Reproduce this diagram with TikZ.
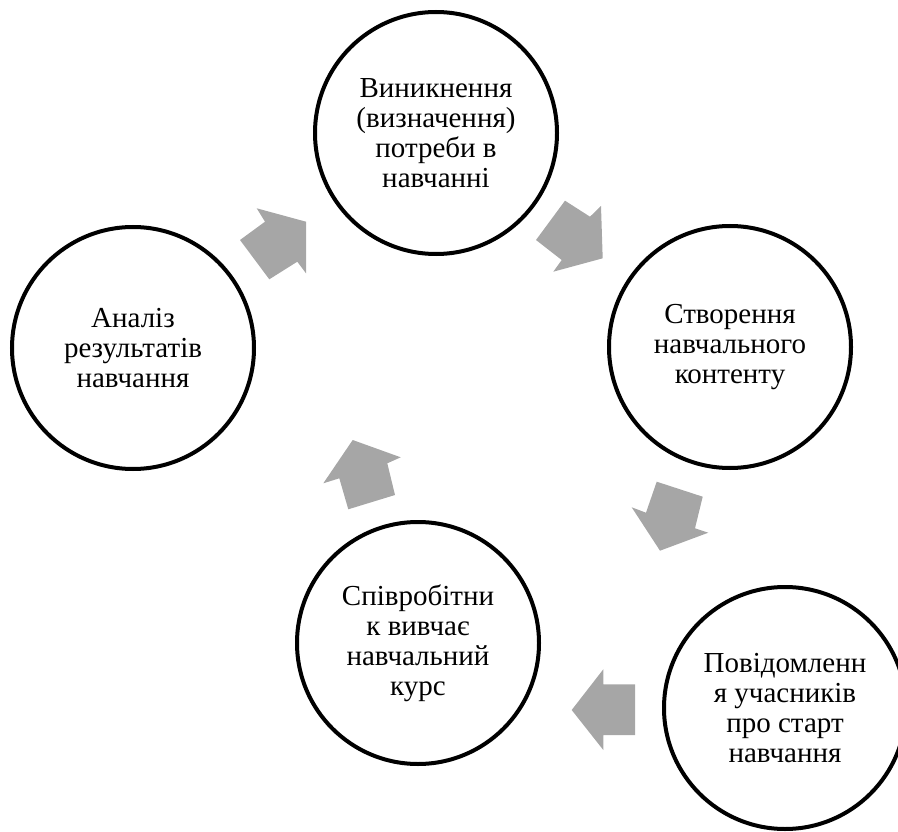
\documentclass[tikz,border=0pt]{standalone}
\usepackage{fontspec}
\setmainfont{Liberation Serif}
\definecolor{arrowgray}{RGB}{166,166,166}

\begin{document}
\begin{tikzpicture}[x=1pt,y=-1pt,
  stage/.style={circle,draw=black,line width=4pt,minimum size=242pt,inner sep=0pt,
    align=center,font=\fontsize{29}{30}\selectfont},
  blockarrow/.style={fill=arrowgray}]

\useasboundingbox (0,0) rectangle (898,832);
\clip (0,0) rectangle (898,832);

\coordinate (c1) at (436,133);
\coordinate (c2) at (730,347);
\coordinate (c3) at (785,708);
\coordinate (c4) at (418,643);
\coordinate (c5) at (133,348);

\node[stage] (need) at (c1) {Виникнення\\(визначення)\\потреби в\\навчанні};
\node[stage] (content) at (c2) {Створення\\навчального\\контенту};
\node[stage] (notify) at (c3) {Повідомленн\\я учасників\\про старт\\навчання};
\node[stage] (study) at (c4) {Співробітни\\к вивчає\\навчальний\\курс};
\node[stage] (review) at (c5) {Аналіз\\результатів\\навчання};

% arrows of the cycle
\fill[blockarrow] (240,240) -- (265,221.7) -- (256.7,208.3) -- (306,221.7) -- (306,273.3) -- (297.3,261.7) -- (269.3,279.3) -- cycle;
\fill[blockarrow] (565,200.7) -- (590,216.7) -- (601,206) -- (602.7,258.3) -- (553.3,271.7) -- (561.7,260) -- (536,240) -- cycle;
\fill[blockarrow] (656.7,481.7) -- (702.7,496.7) -- (695,528.3) -- (708.3,532.7) -- (660,550.7) -- (631.7,507.3) -- (646,512.7) -- cycle;
\fill[blockarrow] (635,684.3) -- (635,735) -- (603.3,735) -- (603.3,750) -- (571.7,710) -- (603.3,669.3) -- (603.3,684.3) -- cycle;
\fill[blockarrow] (323.3,483.3) -- (352.7,440) -- (400.7,457.3) -- (387.3,463.3) -- (395,495) -- (348.3,509.3) -- (339.3,478.3) -- cycle;

\end{tikzpicture}
\end{document}
